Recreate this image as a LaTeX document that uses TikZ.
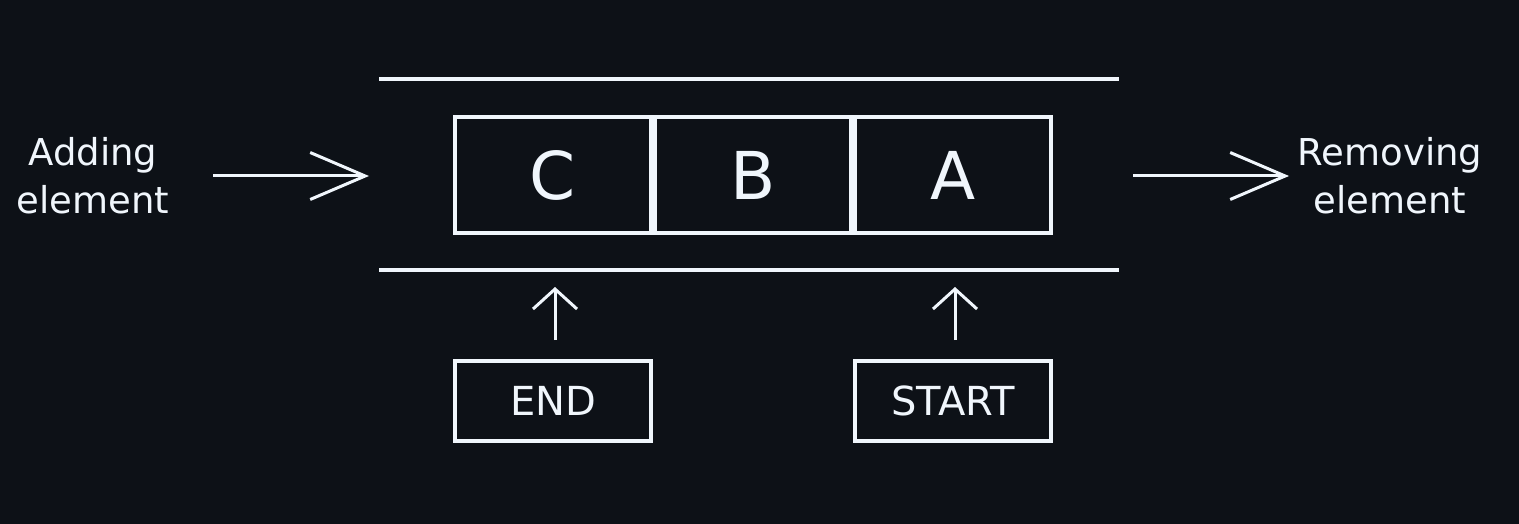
\documentclass[tikz,border=0pt]{standalone}
\usepackage{fontspec}
\setmainfont{DejaVu Sans}
\usetikzlibrary{arrows.meta}
\definecolor{bg}{HTML}{0D1117}
\definecolor{fg}{HTML}{F0F6FC}
\begin{document}
\begin{tikzpicture}[x=1pt,y=-1pt,
  cell/.style={draw=fg,line width=4pt,minimum width=196pt,minimum height=116pt,inner sep=0pt,outer sep=0pt,text=fg,font=\fontsize{66}{70}\selectfont},
  tag/.style={draw=fg,line width=4pt,minimum width=196pt,minimum height=80pt,inner sep=0pt,outer sep=0pt,text=fg,font=\fontsize{40}{44}\selectfont},
  sidelabel/.style={text=fg,align=center,inner sep=0pt,font=\fontsize{37}{48}\selectfont},
  rail/.style={draw=fg,line width=4pt},
  flow/.style={draw=fg,line width=3pt,-{Straight Barb[length=55pt,width=47pt,line width=3pt]}},
  upflow/.style={draw=fg,line width=3pt,-{Straight Barb[length=20pt,width=44pt,line width=3pt]}},
]
\fill[bg] (0,0) rectangle (1519,524);
\useasboundingbox (0,0) rectangle (1519,524);

% rails
\coordinate (railTL) at (379,79.5);
\coordinate (railTR) at (1119,79.5);
\coordinate (railBL) at (379,269.5);
\coordinate (railBR) at (1119,269.5);
\draw[rail] (railTL) -- (railTR);
\draw[rail] (railBL) -- (railBR);

% cells
\node[cell] (c) at (553,175) {C};
\node[cell] (b) at (753,175) {B};
\node[cell] (a) at (953,175) {A};

% tags
\node[tag] (endbox) at (553,401) {END};
\node[tag] (startbox) at (953,401) {START};

% side labels
\node[sidelabel] (add) at (93,176) {Adding\\element};
\node[sidelabel] (rem) at (1390,176) {Removing\\element};

% horizontal arrows
\coordinate (addfrom) at (213,176);
\coordinate (addto) at (369,176);
\coordinate (remfrom) at (1133,176);
\coordinate (remto) at (1289,176);
\draw[flow] (addfrom) -- (addto);
\draw[flow] (remfrom) -- (remto);

% pointer arrows
\coordinate (endtip) at (555,287);
\coordinate (starttip) at (955,287);
\draw[upflow,shorten <=21pt] (endbox.north -| endtip) -- (endtip);
\draw[upflow,shorten <=21pt] (startbox.north -| starttip) -- (starttip);
\end{tikzpicture}
\end{document}
